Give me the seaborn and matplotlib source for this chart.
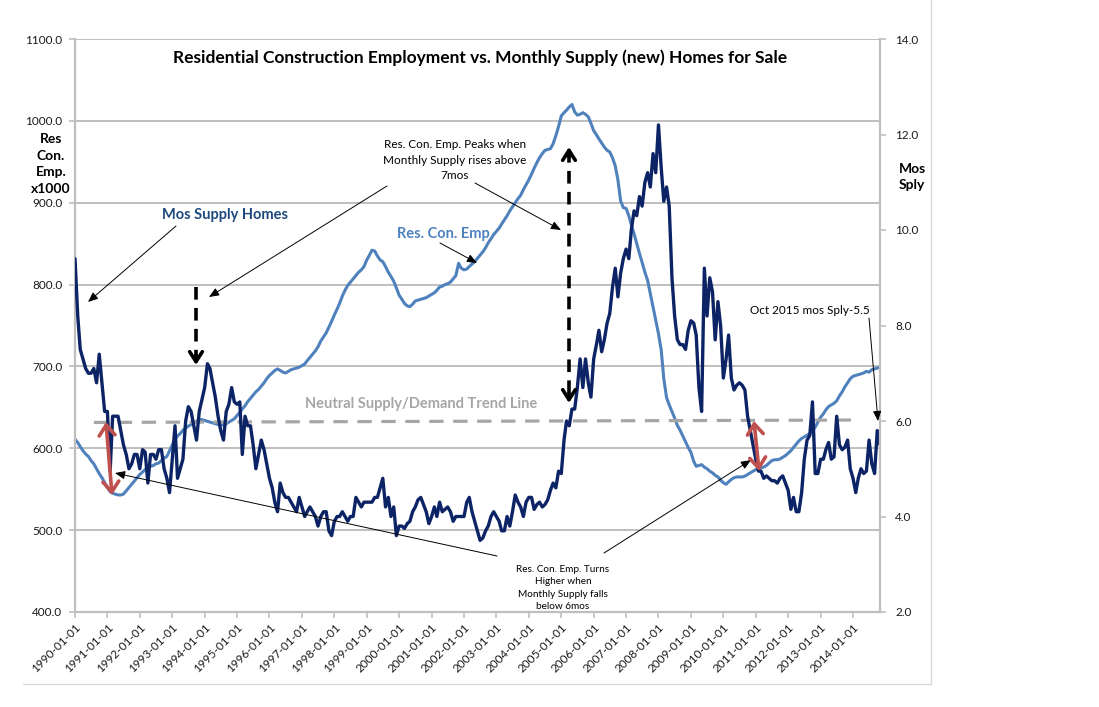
import matplotlib
matplotlib.use("Agg")
import matplotlib.pyplot as plt
import matplotlib.dates as mdates
from matplotlib.lines import Line2D
from matplotlib.ticker import FormatStrFormatter
import pandas as pd
import seaborn as sns

# Monthly data, Jan 1990 .. Nov 2014
START_MONTH = "1990-01-01"

# Residential construction employment (x1000), left axis
RES_CON_EMP = [
    611, 607, 602, 597, 593, 590, 585, 581, 575, 569, 564, 558,
    552, 547, 545, 544, 543, 543, 544, 548, 552, 556, 560, 564,
    568, 571, 574, 576, 578, 579, 581, 582, 585, 588, 590, 597,
    604, 611, 615, 618, 622, 625, 627, 629, 631, 633, 635, 635,
    634, 633, 632, 631, 630, 629, 628, 629, 630, 632, 634, 636,
    640, 644, 648, 652, 657, 661, 665, 669, 672, 676, 680, 685,
    689, 692, 695, 697, 695, 693, 692, 694, 696, 697, 698, 699,
    701, 703, 707, 711, 715, 719, 724, 731, 736, 741, 748, 755,
    763, 770, 777, 786, 793, 799, 803, 807, 811, 815, 818, 822,
    830, 836, 842, 841, 835, 830, 828, 822, 815, 810, 804, 796,
    787, 782, 777, 774, 773, 776, 780, 781, 782, 783, 784, 786,
    788, 790, 793, 797, 798, 800, 801, 803, 807, 811, 826, 820,
    818, 819, 822, 825, 828, 832, 836, 840, 845, 851, 856, 861,
    865, 869, 874, 879, 884, 890, 895, 900, 905, 909, 916, 922,
    928, 935, 942, 949, 955, 960, 964, 965, 966, 972, 982, 993,
    1006, 1010, 1013, 1017, 1020, 1011, 1007, 1008, 1010, 1008, 1005, 997,
    988, 983, 978, 973, 968, 964, 962, 955, 945, 928, 902, 894,
    893, 884, 873, 862, 850, 838, 827, 815, 805, 789, 773, 757,
    740, 720, 685, 662, 653, 645, 637, 628, 622, 615, 608, 601,
    595, 584, 578, 579, 580, 577, 575, 572, 570, 567, 565, 561,
    558, 556, 559, 562, 564, 565, 565, 565, 566, 568, 570, 572,
    574, 575, 576, 577, 579, 582, 585, 586, 586, 587, 589, 591,
    594, 597, 601, 605, 609, 612, 614, 616, 618, 621, 626, 632,
    638, 642, 647, 651, 653, 655, 658, 664, 669, 675, 680, 685,
    688, 689, 690, 691, 692, 694, 693, 696, 697, 698, 699,
]

# Months' supply of new homes for sale, right axis
MOS_SUPPLY = [
    9.4, 8.2, 7.5, 7.3, 7.1, 7.0, 7.0, 7.1, 6.8, 7.4, 6.8, 6.2,
    6.2, 4.95, 6.1, 6.1, 6.1, 5.8, 5.5, 5.3, 5.0, 5.1, 5.3, 5.3,
    5.0, 5.4, 5.35, 4.7, 5.3, 5.3, 5.2, 5.4, 5.4, 5.0, 4.8, 4.5,
    5.2, 5.9, 4.8, 5.0, 5.2, 6.0, 6.3, 6.2, 5.9, 5.6, 6.2, 6.45,
    6.7, 7.2, 7.1, 6.8, 6.5, 6.1, 5.8, 5.6, 6.2, 6.35, 6.7, 6.4,
    6.35, 6.4, 5.3, 6.1, 5.9, 5.9, 5.5, 5.0, 5.3, 5.6, 5.4, 5.1,
    4.8, 4.6, 4.3, 4.1, 4.7, 4.5, 4.4, 4.4, 4.3, 4.2, 4.1, 4.4,
    4.2, 4.0, 4.1, 4.2, 4.1, 4.0, 3.8, 4.0, 4.1, 4.1, 3.7, 3.6,
    3.9, 4.0, 4.0, 4.1, 4.0, 3.9, 4.0, 4.0, 4.4, 4.3, 4.2, 4.3,
    4.3, 4.3, 4.3, 4.4, 4.4, 4.6, 4.8, 4.2, 4.4, 4.0, 4.2, 3.6,
    3.8, 3.8, 3.75, 3.85, 3.9, 4.1, 4.2, 4.35, 4.4, 4.25, 4.1, 3.85,
    4.0, 4.2, 4.0, 4.3, 4.1, 4.15, 4.2, 4.1, 3.9, 4.0, 4.0, 4.0,
    4.0, 4.3, 4.4, 4.1, 3.9, 3.7, 3.5, 3.55, 3.7, 3.8, 4.0, 4.1,
    4.0, 3.9, 3.7, 3.7, 4.0, 3.8, 4.1, 4.45, 4.3, 4.2, 4.0, 4.3,
    4.4, 4.4, 4.15, 4.25, 4.3, 4.2, 4.25, 4.35, 4.55, 4.7, 4.6, 4.95,
    4.9, 5.6, 6.0, 5.9, 6.25, 6.25, 6.7, 7.3, 6.7, 7.3, 6.8, 6.5,
    7.3, 7.6, 7.9, 7.45, 7.7, 8.05, 8.25, 8.8, 9.2, 8.6, 9.1, 9.4,
    9.6, 9.4, 10.0, 10.4, 10.3, 10.7, 10.5, 11.0, 11.2, 10.9, 11.6, 11.2,
    12.2, 11.3, 10.6, 10.9, 10.5, 9.0, 8.2, 7.7, 7.6, 7.6, 7.5, 7.9,
    8.1, 8.05, 7.8, 6.7, 6.2, 9.2, 8.2, 9.0, 8.7, 7.7, 8.5, 8.0,
    6.9, 7.3, 7.8, 6.9, 6.65, 6.75, 6.8, 6.75, 6.65, 6.1, 5.8, 5.5,
    5.2, 4.95, 4.95, 4.8, 4.85, 4.8, 4.75, 4.75, 4.7, 4.8, 4.85, 4.7,
    4.55, 4.15, 4.4, 4.1, 4.1, 4.5, 5.2, 5.6, 5.7, 6.4, 4.9, 4.9,
    5.2, 5.2, 5.4, 5.55, 5.2, 5.25, 6.1, 5.5, 5.4, 5.45, 5.6, 5.0,
    4.8, 4.5, 4.8, 5.0, 4.9, 4.95, 5.6, 5.1, 4.9, 5.8, 5.5,
]

# Neutral supply/demand trend line (right axis)
NEUTRAL_DATES = ["1990-08-01", "2014-01-01"]
NEUTRAL_VALUES = [5.97, 6.02]

LEFT_TICKS = [400, 500, 600, 700, 800, 900, 1000, 1100]
RIGHT_TICKS = [2, 4, 6, 8, 10, 12, 14]
YEAR_TICKS = pd.date_range("1990-01-01", "2014-01-01", freq="YS")

TITLE = "Residential Construction Employment vs. Monthly Supply (new) Homes for Sale"

C_EMP = "#4f81bd"
C_SUPPLY = "#0c2466"
C_GRID = "#bfbfbf"
C_NEUTRAL = "#a6a6a6"
C_RED = "#c0504d"
C_TEXT = "#1a1a1a"

W, H = 1099, 707


def fp(x, y):
    """pixel position in the reference -> figure fraction"""
    return (x / W, 1 - y / H)


sns.set_style("white")
plt.rcParams["font.family"] = ["Lato", "DejaVu Sans"]

dates = pd.date_range(START_MONTH, periods=len(RES_CON_EMP), freq="MS")
df = pd.DataFrame({"date": dates, "emp": RES_CON_EMP, "supply": MOS_SUPPLY})
neutral = pd.DataFrame({"date": pd.to_datetime(NEUTRAL_DATES), "level": NEUTRAL_VALUES})

fig = plt.figure(figsize=(W / 100, H / 100), dpi=100)
fig.patch.set_facecolor("white")
ax = fig.add_axes([75 / W, 1 - 612 / H, (880 - 75) / W, (612 - 39) / H])
ax2 = ax.twinx()

sns.lineplot(data=df, x="date", y="emp", ax=ax, color=C_EMP, linewidth=2.2)
sns.lineplot(data=neutral, x="date", y="level", ax=ax2, color=C_NEUTRAL,
             linewidth=2.3, dashes=False)
ax2.lines[-1].set_dashes((4.5, 3))
sns.lineplot(data=df, x="date", y="supply", ax=ax2, color=C_SUPPLY, linewidth=2.4)

ax.set_xlim(dates[0], dates[-1])
ax.set_ylim(400, 1100)
ax2.set_ylim(2, 14)
ax.set_yticks(LEFT_TICKS)
ax2.set_yticks(RIGHT_TICKS)
ax.yaxis.set_major_formatter(FormatStrFormatter("%.1f"))
ax2.yaxis.set_major_formatter(FormatStrFormatter("%.1f"))
ax.set_xticks(YEAR_TICKS)
ax.xaxis.set_major_formatter(mdates.DateFormatter("%Y-%m-%d"))
plt.setp(ax.get_xticklabels(), rotation=45, ha="right", rotation_mode="anchor")

ax.set_xlabel("")
ax.set_ylabel("")
ax2.set_ylabel("")

ax.grid(axis="y", color=C_GRID, linewidth=1.4)
ax.grid(axis="x", visible=False)
ax2.grid(False)
ax.set_axisbelow(True)

for a in (ax, ax2):
    for s in a.spines.values():
        s.set_visible(False)
ax.spines["left"].set_visible(True)
ax.spines["bottom"].set_visible(True)
ax2.spines["right"].set_visible(True)
for s in (ax.spines["left"], ax.spines["bottom"], ax2.spines["right"]):
    s.set_color(C_GRID)
    s.set_linewidth(1.6)

ax.tick_params(axis="both", which="major", labelsize=8.5, colors=C_GRID,
               labelcolor=C_TEXT, length=4, width=1.2, direction="out",
               left=True, bottom=True)
ax.tick_params(axis="y", pad=5)
ax.tick_params(axis="x", pad=3)
ax2.tick_params(axis="y", labelsize=8.5, colors=C_GRID, labelcolor=C_TEXT,
                length=4, width=1.2, direction="out", right=True, pad=7)

# chart frame (bottom and right edges)
fig.add_artist(Line2D([23 / W, 931 / W], [1 - 684 / H, 1 - 684 / H],
                      transform=fig.transFigure, color="#d9d9d9", lw=1))
fig.add_artist(Line2D([931 / W, 931 / W], [1 - 684 / H, 1.0],
                      transform=fig.transFigure, color="#d9d9d9", lw=1))

# titles and axis captions
fig.text(*fp(480, 58), TITLE, fontsize=12.5, fontweight="bold", color="black",
         ha="center", va="center")
fig.text(*fp(51, 164), "Res\nCon.\nEmp.\nx1000", fontsize=10, fontweight="bold",
         color="black", ha="center", va="center", linespacing=1.45)
fig.text(*fp(912, 177), "Mos\nSply", fontsize=10, fontweight="bold",
         color="black", ha="center", va="center", linespacing=1.45)

# series captions
fig.text(*fp(162, 215), "Mos Supply Homes", fontsize=10.5, fontweight="bold",
         color="#1f497d", ha="left", va="center")
fig.text(*fp(397, 234), "Res. Con. Emp", fontsize=10.5, fontweight="bold",
         color=C_EMP, ha="left", va="center")
fig.text(*fp(305, 404), "Neutral Supply/Demand Trend Line", fontsize=10.5,
         fontweight="bold", color=C_NEUTRAL, ha="left", va="center")
fig.text(*fp(455, 160), "Res. Con. Emp. Peaks when\nMonthly Supply rises above\n7mos",
         fontsize=8.5, color="black", ha="center", va="center", linespacing=1.5)
fig.text(*fp(563, 588), "Res. Con. Emp. Turns\nHigher when\nMonthly Supply falls\nbelow 6mos",
         fontsize=7.2, color="black", ha="center", va="center", linespacing=1.45)
fig.text(*fp(750, 311), "Oct 2015 mos Sply-5.5", fontsize=8.5, color="black",
         ha="left", va="center")


def thin_arrow(tail, tip):
    ax2.annotate("", xy=fp(*tip), xytext=fp(*tail), xycoords="figure fraction",
                 textcoords="figure fraction",
                 arrowprops=dict(arrowstyle="-|>,head_length=0.6,head_width=0.25",
                                 color="black", lw=0.7, shrinkA=0, shrinkB=0))


thin_arrow((176, 226), (88, 302))
thin_arrow((440, 243), (477, 263))
thin_arrow((387, 186), (209, 297))
thin_arrow((475, 183), (561, 230))
thin_arrow((497, 556), (115, 473))
thin_arrow((604, 553), (751, 460))
thin_arrow((869, 318), (878, 421))


def dashed_arrow(x, y0, y1, heads):
    fig.add_artist(Line2D([x / W, x / W], [1 - y0 / H, 1 - y1 / H],
                          transform=fig.transFigure, color="black", lw=2.6,
                          linestyle=(0, (3.5, 2.3))))
    for tip, back in heads:
        ax2.annotate("", xy=fp(x, tip), xytext=fp(x, back),
                     xycoords="figure fraction", textcoords="figure fraction",
                     arrowprops=dict(arrowstyle="->,head_length=0.55,head_width=0.35",
                                     color="black", lw=2.6, shrinkA=0, shrinkB=0,
                                     mutation_scale=13))


dashed_arrow(196, 287, 362, [(365, 355)])
dashed_arrow(569, 150, 400, [(147, 157), (403, 393)])


def red_arrow(p0, p1):
    ax2.annotate("", xy=fp(*p1), xytext=fp(*p0), xycoords="figure fraction",
                 textcoords="figure fraction",
                 arrowprops=dict(arrowstyle="<->,head_length=0.5,head_width=0.38",
                                 color=C_RED, lw=2.6, shrinkA=0, shrinkB=0,
                                 mutation_scale=15))


red_arrow((106, 422), (112, 495))
red_arrow((754, 421), (759, 471))

fig.savefig("out.png", dpi=100, facecolor="white")
